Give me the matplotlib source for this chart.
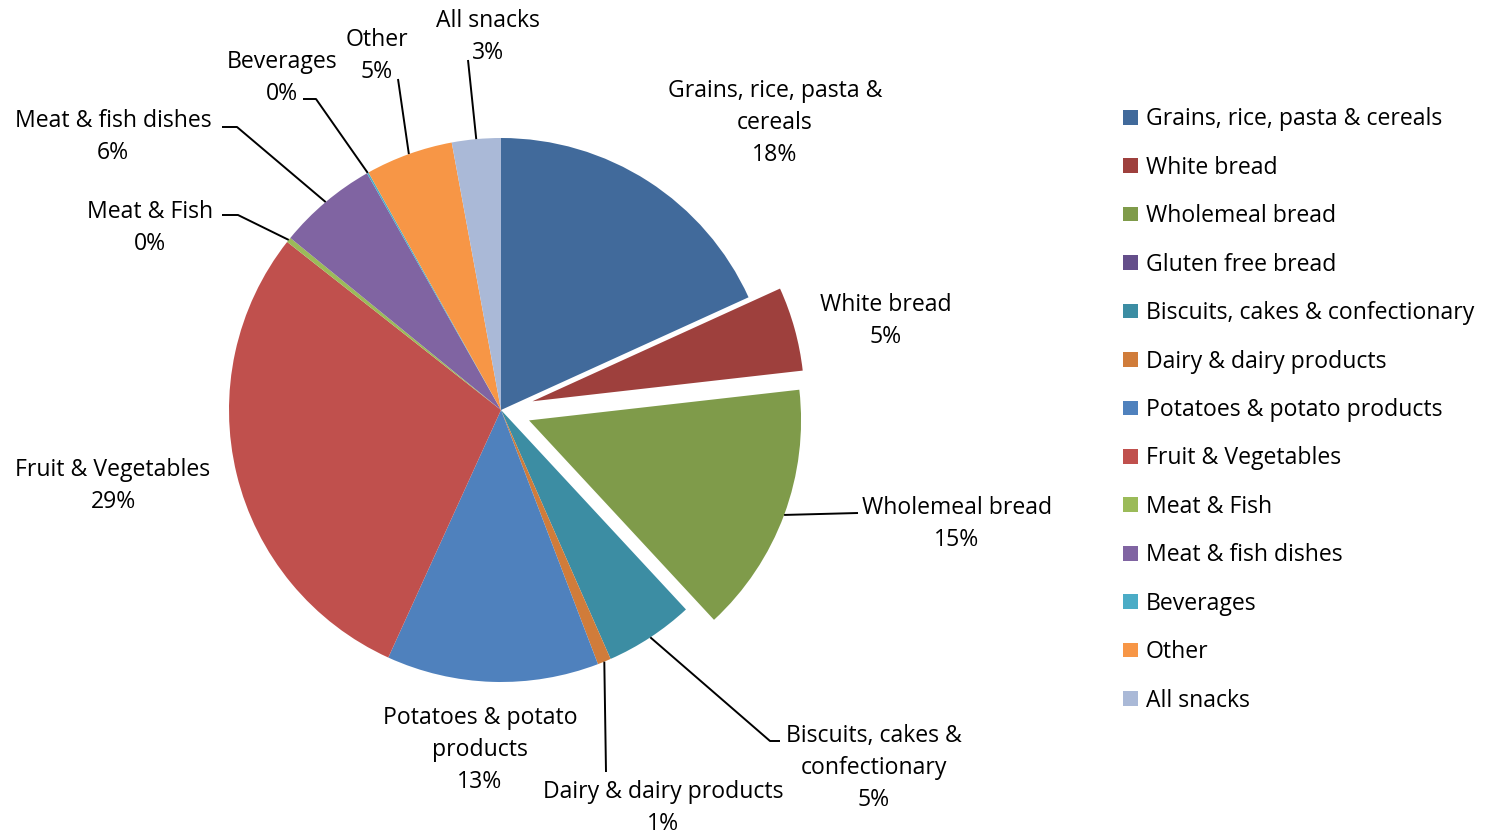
import matplotlib.pyplot as plt
import numpy as np

plt.rcParams['font.family'] = ['Open Sans', 'DejaVu Sans']

categories = ["Grains, rice, pasta & cereals", "White bread", "Wholemeal bread",
              "Gluten free bread", "Biscuits, cakes & confectionary",
              "Dairy & dairy products", "Potatoes & potato products",
              "Fruit & Vegetables", "Meat & Fish", "Meat & fish dishes",
              "Beverages", "Other", "All snacks"]
shares = [18.2, 5.0, 14.9, 0.0, 5.3, 0.8, 12.6, 28.8, 0.3, 5.9, 0.1, 5.2, 2.9]
colors = ["#416A9B", "#9E403D", "#7F9B4A", "#644E8A", "#3C8DA3", "#D07C3A",
          "#4F81BD", "#C0504D", "#9BBB59", "#8064A2", "#4BACC6", "#F79646",
          "#AAB9D7"]
explode_frac = [0, 0.12, 0.11, 0, 0, 0, 0, 0, 0, 0, 0, 0, 0]

# wrapped names used for the slice labels
label_names = ["Grains, rice, pasta &\ncereals", "White bread", "Wholemeal bread",
               None, "Biscuits, cakes &\nconfectionary", "Dairy & dairy products",
               "Potatoes & potato\nproducts", "Fruit & Vegetables", "Meat & Fish",
               "Meat & fish dishes", "Beverages", "Other", "All snacks"]

W, H = 1488, 836
cx, cy, R = 501, 410, 272
FS = 16.6

# label centres and leader elbows, in pixels from the top-left corner
label_pos = {0: (775, 123), 1: (886, 321), 2: (957, 524), 4: (874, 768),
             5: (663, 808), 6: (480, 750), 7: (113, 486), 8: (150, 228),
             9: (113, 137), 10: (282, 78), 11: (377, 56), 12: (488, 37)}
leaders = {2: [(858, 513)], 4: [(780, 741), (770, 741)], 5: [(606, 772)],
           8: [(222, 215), (238, 215)], 9: [(222, 127), (237, 127)],
           10: [(303, 99), (316, 99)], 11: [(398, 79)], 12: [(468, 60)]}


def px(p):
    return p[0], H - p[1]


fig = plt.figure(figsize=(W / 100, H / 100), dpi=100)
ax = fig.add_axes([0, 0, 1, 1])

wedges, _ = ax.pie(shares, colors=colors,
                   explode=[e * R for e in explode_frac],
                   startangle=90, counterclock=False,
                   center=(cx, H - cy), radius=R,
                   wedgeprops=dict(linewidth=0))

for i, w in enumerate(wedges):
    name = label_names[i]
    if name is None:
        continue
    txt = "%s\n%d%%" % (name, round(shares[i]))
    ax.text(*px(label_pos[i]), txt, ha='center', va='center',
            multialignment='center', fontsize=FS, linespacing=1.45)
    if i in leaders:
        mid = np.deg2rad((w.theta1 + w.theta2) / 2)
        edge = (w.center[0] + w.r * np.cos(mid), w.center[1] + w.r * np.sin(mid))
        pts = [px(p) for p in leaders[i]] + [edge]
        xs, ys = zip(*pts)
        ax.plot(xs, ys, color='black', lw=1.4, solid_capstyle='butt')

ax.legend(wedges, categories, loc='center left', bbox_to_anchor=(1123, H - 410),
          bbox_transform=ax.transData, frameon=False, fontsize=FS,
          handlelength=0.65, handleheight=0.6, handletextpad=0.35,
          labelspacing=1.06, borderpad=0, borderaxespad=0)

ax.set_xlim(0, W)
ax.set_ylim(0, H)
ax.set_aspect('equal')
ax.axis('off')

fig.savefig('out.png', dpi=100)
